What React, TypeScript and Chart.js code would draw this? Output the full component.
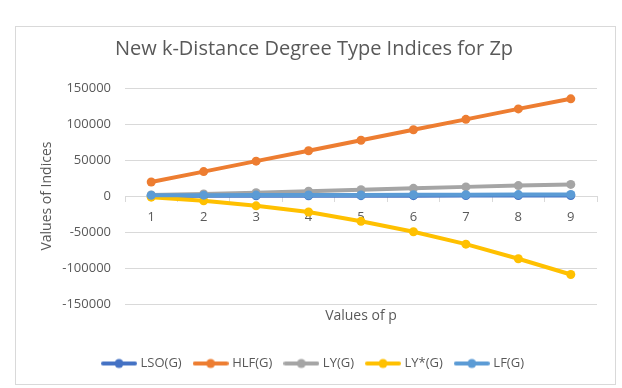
import React, { useEffect, useRef } from "react";
import { Chart, registerables } from "chart.js";

Chart.register(...registerables);

const pValues = ["1", "2", "3", "4", "5", "6", "7", "8", "9"];
const lsoValues = [300, 400, 500, 550, 600, 650, 700, 750, 800];
const hlfValues = [19500, 34000, 48500, 63000, 77500, 92000, 106500, 121000, 135000];
const lyValues = [1500, 3000, 4800, 6800, 8800, 10800, 12800, 14600, 16200];
const lyStarValues = [-1500, -6500, -13500, -22000, -35000, -49500, -66700, -87000, -108800];
const lfValues = [1200, 1300, 1400, 1500, 1600, 1800, 1900, 2100, 2300];
const yTicks = [-150000, -100000, -50000, 0, 50000, 100000, 150000];

const seriesNames = ["LSO(G)", "HLF(G)", "LY(G)", "LY*(G)", "LF(G)"];
const seriesColors = ["#4472C4", "#ED7D31", "#A5A5A5", "#FFC000", "#5B9BD5"];

const FONT = "'Open Sans', 'Noto Sans', sans-serif";
const TEXT = "#595959";

function legendIcon(color: string): HTMLCanvasElement {
  const c = document.createElement("canvas");
  c.width = 36;
  c.height = 12;
  const g = c.getContext("2d")!;
  g.strokeStyle = color;
  g.lineWidth = 4;
  g.lineCap = "round";
  g.beginPath();
  g.moveTo(2, 6);
  g.lineTo(34, 6);
  g.stroke();
  g.fillStyle = color;
  g.beginPath();
  g.arc(18, 6, 4.5, 0, Math.PI * 2);
  g.fill();
  return c;
}

const frame = {
  id: "frame",
  beforeDraw(chart: any) {
    const ctx = chart.ctx;
    ctx.save();
    ctx.fillStyle = "#ffffff";
    ctx.fillRect(0, 0, chart.width, chart.height);
    ctx.strokeStyle = "#d9d9d9";
    ctx.lineWidth = 1;
    ctx.strokeRect(15.5, 26.5, 600, 358);
    ctx.restore();
  },
};

export default function App() {
  const ref = useRef<HTMLCanvasElement>(null);
  useEffect(() => {
    document.body.style.margin = "0";
    const allValues = [lsoValues, hlfValues, lyValues, lyStarValues, lfValues];
    const icons = seriesColors.map(legendIcon);
    const chart = new Chart(ref.current!, {
      type: "line",
      data: {
        labels: pValues,
        datasets: seriesNames.map((name, i) => ({
          label: name,
          data: allValues[i],
          borderColor: seriesColors[i],
          backgroundColor: seriesColors[i],
          borderWidth: 4,
          pointRadius: 4.5,
          pointBorderWidth: 0,
          pointBackgroundColor: seriesColors[i],
          pointStyle: "circle",
          order: 4 - i,
          tension: 0,
        })),
      },
      options: {
        animation: false,
        responsive: false,
        layout: { padding: { left: 31, right: 25, top: 26, bottom: 8 } },
        plugins: {
          title: {
            display: true,
            text: "New k-Distance Degree Type Indices for Zp",
            color: TEXT,
            font: { family: FONT, size: 20, weight: "normal" },
            padding: { top: 11, bottom: 27 },
          },
          legend: {
            position: "bottom",
            labels: {
              color: TEXT,
              font: { family: FONT, size: 13 },
              usePointStyle: true,
              pointStyleWidth: 30,
              padding: 14,
              generateLabels: (chart: any) =>
                chart.data.datasets.map((ds: any, i: number) => ({
                  text: ds.label,
                  fillStyle: seriesColors[i],
                  strokeStyle: seriesColors[i],
                  lineWidth: 0,
                  pointStyle: icons[i],
                  fontColor: TEXT,
                  hidden: false,
                  datasetIndex: i,
                })),
            },
          },
          tooltip: { enabled: false },
        },
        scales: {
          x: {
            type: "category",
            offset: true,
            position: { y: 0 },
            grid: {
              display: true,
              offset: true,
              drawOnChartArea: false,
              drawTicks: true,
              tickLength: 5,
              color: "#d9d9d9",
            },
            border: { display: true, color: "#d9d9d9", width: 1 },
            ticks: {
              color: TEXT,
              font: { family: FONT, size: 13 },
              padding: 8,
              maxRotation: 0,
            },
          },
          x2: {
            type: "category",
            position: "bottom",
            offset: true,
            grid: { display: false, drawTicks: false },
            border: { display: false },
            ticks: { display: false },
            title: {
              display: true,
              text: "Values of p",
              color: TEXT,
              font: { family: FONT, size: 14 },
              padding: { top: 3, bottom: 19 },
            },
          },
          y: {
            min: -150000,
            max: 150000,
            afterBuildTicks: (scale: any) => {
              scale.ticks = yTicks.map((v) => ({ value: v }));
            },
            afterFit: (scale: any) => {
              scale.width = 94;
            },
            grid: { color: "#d9d9d9", drawTicks: false },
            border: { display: false },
            ticks: {
              color: TEXT,
              font: { family: FONT, size: 13 },
              padding: 14,
              callback: (v: any) => String(v),
            },
            title: {
              display: true,
              text: "Values of Indices",
              color: TEXT,
              font: { family: FONT, size: 14 },
              padding: { top: 8, bottom: 0 },
            },
          },
        },
      },
      plugins: [frame],
    } as any);
    return () => chart.destroy();
  }, []);
  return <canvas ref={ref} width={622} height={388} style={{ display: "block" }} />;
}
